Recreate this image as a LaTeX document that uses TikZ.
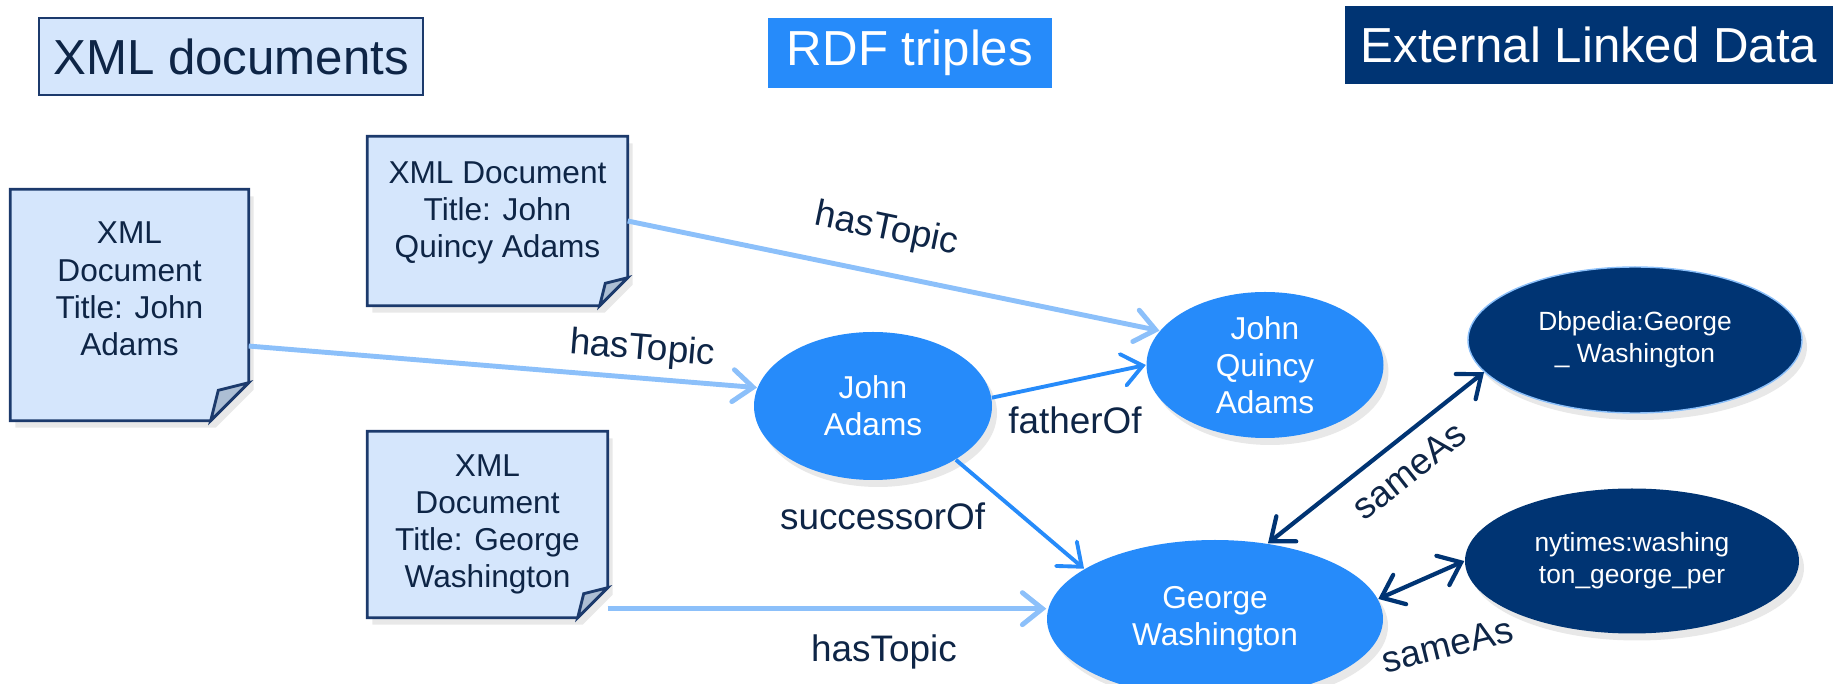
\documentclass[tikz,border=0pt]{standalone}
\usepackage{fontspec}
\setmainfont{Liberation Sans}
\usetikzlibrary{arrows.meta}
\usetikzlibrary{shapes.geometric}
\usetikzlibrary{shadows}
\pgfdeclarelayer{background}
\pgfsetlayers{background,main}

\definecolor{navy}{RGB}{0,52,115}
\definecolor{inkblue}{RGB}{14,37,70}
\definecolor{docblue}{RGB}{213,230,252}
\definecolor{docline}{RGB}{28,58,108}
\definecolor{foldgray}{RGB}{172,190,212}
\definecolor{rdfblue}{RGB}{38,139,250}
\definecolor{linkblue}{RGB}{140,192,250}

\tikzset{barb/.tip={Straight Barb[length=2mm, width=3.2mm, line cap=round]}}

\begin{document}
\begin{tikzpicture}[x=0.1mm, y=-0.1mm,
    every node/.style={font=\fontsize{9}{10.6}\selectfont, text=inkblue, align=center},
    header/.style={inner sep=0pt, font=\fontsize{14}{16}\selectfont},
    docbox/.style={rectangle, inner sep=0pt},
    softshadow/.style={drop shadow={opacity=0.18, shadow xshift=0.5mm, shadow yshift=-0.7mm}},
    resource/.style={ellipse, fill=rdfblue, text=white, inner sep=0pt, softshadow},
    extres/.style={ellipse, fill=navy, text=white, inner sep=0pt, softshadow,
                   font=\fontsize{7.5}{9}\selectfont},
    topic/.style={draw=linkblue, line width=1.4pt, -barb},
    relation/.style={draw=rdfblue, line width=1.1pt, -barb},
    same/.style={draw=navy, line width=1.2pt, barb-barb},
    lbl/.style={font=\fontsize{10.5}{12}\selectfont, inner sep=1pt}
]
\useasboundingbox (0,0) rectangle (1833,684);

% headers
\node[header, fill=docblue, draw=docline, line width=0.8pt,
      minimum width=38.4mm, minimum height=7.7mm] (xmlhdr) at (231,56.5) {XML documents};
\node[header, fill=rdfblue, text=white,
      minimum width=28.4mm, minimum height=7mm] (rdfhdr) at (910,53) {RDF triples};
\node[header, fill=navy, text=white,
      minimum width=48.9mm, minimum height=7.8mm] (exthdr) at (1589,45) {External Linked Data};

% documents (frame is drawn on the background layer, text sits a bit high)
\node[docbox, minimum width=23.7mm, minimum height=23mm,
      label={[name=doc1txt, yshift=1.6mm]center:{XML\\Document\\Title: John\\Adams}}] (doc1) at (129.5,305) {};
\node[docbox, minimum width=25.9mm, minimum height=16.8mm,
      label={[name=doc2txt, yshift=0.8mm]center:{XML Document\\Title: John\\Quincy Adams}}] (doc2) at (497.5,221) {};
\node[docbox, minimum width=23.9mm, minimum height=18.5mm,
      label={[name=doc3txt]center:{XML\\Document\\Title: George\\Washington}}] (doc3) at (487.5,524.5) {};

\begin{pgfonlayer}{background}
\foreach \d/\f in {doc1/38, doc2/28, doc3/30} {
  \draw[fill=docblue, draw=docline, line width=0.8pt, softshadow]
    (\d.north west) -- (\d.north east) -- ([yshift=\f*0.1mm]\d.south east)
    -- ([xshift=-\f*0.1mm]\d.south east) -- (\d.south west) -- cycle;
  \draw[fill=foldgray, draw=docline, line width=0.8pt]
    ([yshift=\f*0.1mm]\d.south east) -- ([xshift=-0.8*\f*0.1mm, yshift=0.8*\f*0.1mm]\d.south east)
    -- ([xshift=-\f*0.1mm]\d.south east) -- cycle;
}
\end{pgfonlayer}

% resources
\node[resource, minimum width=23.8mm, minimum height=14.8mm] (ja) at (873,406) {John\\Adams};
\node[resource, minimum width=23.7mm, minimum height=14.6mm] (jqa) at (1265,365) {John\\Quincy\\Adams};
\node[resource, minimum width=33.6mm, minimum height=15.8mm] (gw) at (1215,619) {George\\Washington};
\node[extres, draw=linkblue, line width=0.4pt, minimum width=33.4mm, minimum height=14.6mm] (dbp) at (1635,340)
     {Dbpedia:George\\\_ Washington};
\node[extres, minimum width=33.4mm, minimum height=14.5mm] (nyt) at (1632,561)
     {nytimes:washing\\ton\_george\_per};

% links
\draw[topic] (doc2.east) -- (jqa.162)
     node[lbl, pos=0.47, above=2mm, sloped] (topic1) {hasTopic};
\draw[topic] (doc1.-19.5) -- (ja.171)
     node[lbl, pos=0.77, above=0.5mm, sloped] (topic2) {hasTopic};
\draw[topic] (doc3.-35) -- (doc3.-35 -| gw.west)
     node[lbl, pos=0.63, below=2mm] (topic3) {hasTopic};
\draw[relation] (ja.4) -- (jqa.west)
     node[lbl, pos=0.54, below=2.1mm] (father) {fatherOf};
\draw[relation] (ja.-33) -- (gw.159)
     node[lbl, pos=0.52, left=3.2mm] (succ) {successorOf};
\draw[same] (gw.55) -- (dbp.192)
     node[lbl, pos=0.565, below=1.2mm, sloped] (same1) {sameAs};
\draw[same] (gw.7) -- (nyt.west)
     node[lbl, pos=0.5, xshift=2.6mm, yshift=-6.5mm, rotate=14] (same2) {sameAs};
\end{tikzpicture}
\end{document}
